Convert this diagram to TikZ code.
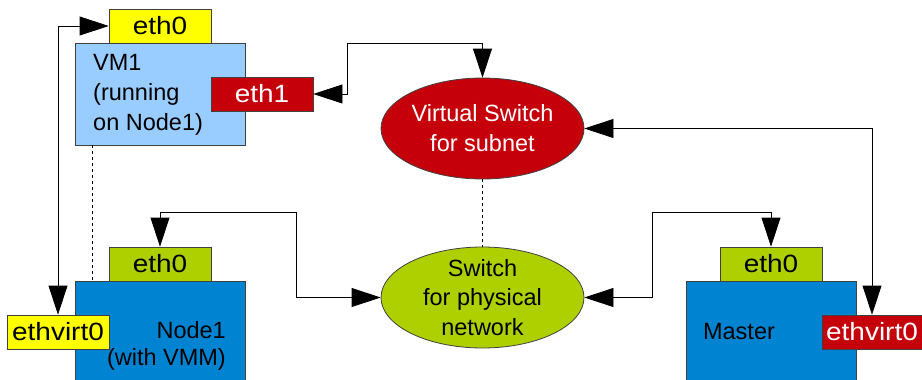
\documentclass[tikz,border=0pt]{standalone}
\usepackage{fontspec}
\setmainfont{Liberation Sans}
\newfontfamily\ifacefont[FakeStretch=1.12]{Liberation Sans}
\usetikzlibrary{arrows.meta,shapes.geometric}

\definecolor{ifyellow}{HTML}{FFFF00}
\definecolor{vmblue}{HTML}{99CCFF}
\definecolor{hostblue}{HTML}{0084D1}
\definecolor{netred}{HTML}{C5000B}
\definecolor{netgreen}{HTML}{AECF00}

\begin{document}
\begin{tikzpicture}[x=1pt, y=-1pt,
    box/.style={draw=black!75, line width=0.8pt, inner sep=0pt},
    iface/.style={box, minimum width=102pt, minimum height=34pt, font=\ifacefont\fontsize{25}{25}\selectfont},
    host/.style={box, minimum width=170pt},
    switchnode/.style={box, ellipse, minimum width=203pt, minimum height=101pt},
    lbl/.style={inner sep=0pt, font=\fontsize{23.5}{30}\selectfont},
    link/.style={{Triangle[length=29pt,width=19pt]}-{Triangle[length=29pt,width=19pt]}, line width=0.8pt}]
        \useasboundingbox (0,0) rectangle (922,380);
        \clip (0,0) rectangle (922,380);

        % virtual machine
        \node[host, fill=vmblue, minimum height=102pt] (vm) at (160, 94) {};
        \node[lbl, align=left, anchor=west] (vmtext) at (93, 95) {VM1\\(running\\on Node1)};
        \node[iface, fill=ifyellow] (vmeth0) at (160, 26) {eth0};
        \node[iface, fill=netred, text=white] (vmeth1) at (262, 94) {eth1};

        % hosts
        \node[host, fill=hostblue, minimum height=120pt] (node1) at (160, 341) {};
        \node[lbl, align=right, anchor=east, font=\fontsize{23.5}{27}\selectfont] (node1text) at (226, 346) {Node1\\(with VMM)};
        \node[iface, fill=netgreen] (neth0) at (160, 264) {eth0};
        \node[iface, fill=ifyellow] (nvirt) at (58, 332) {ethvirt0};

        \node[host, fill=hostblue, minimum height=120pt] (master) at (771, 341) {};
        \node[lbl] (mastertext) at (739, 332) {Master};
        \node[iface, fill=netgreen] (meth0) at (771, 264) {eth0};
        \node[iface, fill=netred, text=white, minimum width=100pt] (mvirt) at (872, 332) {ethvirt0};

        % switches
        \node[switchnode, fill=netred] (vswitch) at (482.5, 128.5) {};
        \node[lbl, align=center, text=white] (vswtext) at (482.5, 128.5) {Virtual Switch\\for subnet};
        \node[switchnode, fill=netgreen] (pswitch) at (482.5, 297.5) {};
        \node[lbl, align=center, font=\fontsize{23.5}{29.5}\selectfont] (pswtext) at (482.5, 297.5) {Switch\\for physical\\network};

        \coordinate (b1) at (347, 43);
        \coordinate (b2) at (296, 212);
        \coordinate (b3) at (652, 212);

        \draw[link] (vmeth0.west) -| (nvirt.north);
        \draw[link] (vmeth1.east) -- (vmeth1.east -| b1) |- (b1 -| vswitch.north) -- (vswitch.north);
        \draw[link] (vswitch.east) -| (mvirt.north);
        \draw[link] (neth0.north) |- (b2) |- (pswitch.west);
        \draw[link] (pswitch.east) -| (b3) -| (meth0.north);

        \draw[dashed, line width=0.7pt] ([xshift=18pt]vm.south west) -- ([xshift=18pt]node1.north west);
        \draw[dashed, line width=0.7pt] (vswitch.south) -- (pswitch.north);
\end{tikzpicture}
\end{document}
